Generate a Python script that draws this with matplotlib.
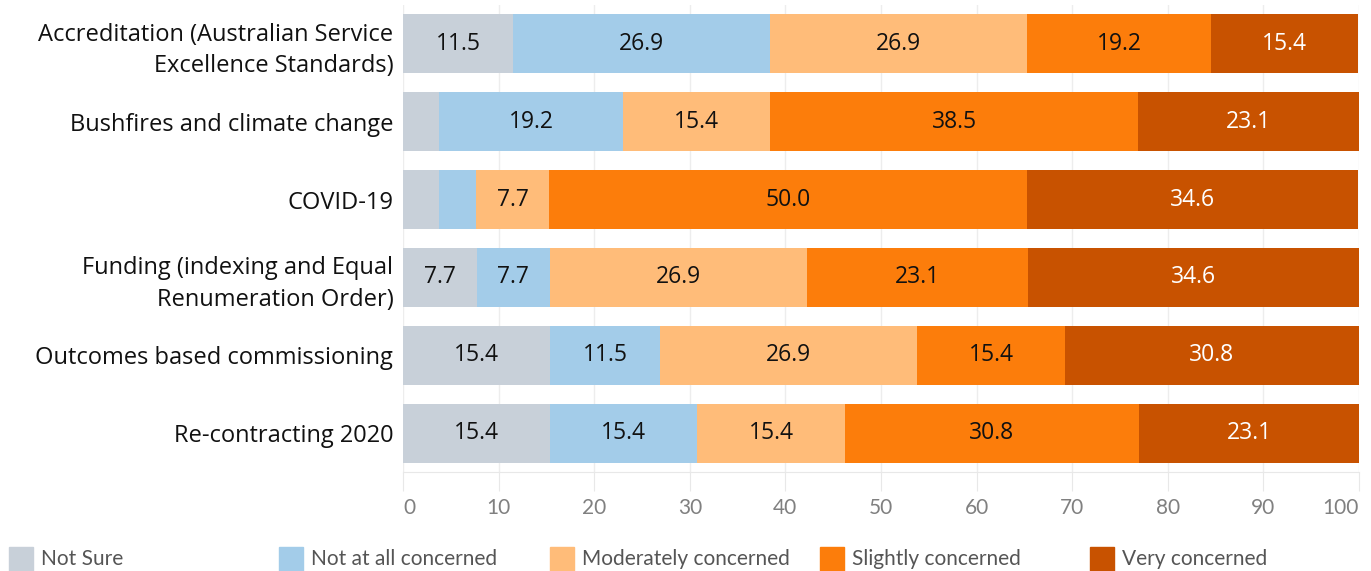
import matplotlib
matplotlib.use("Agg")
import matplotlib.pyplot as plt
from matplotlib import font_manager

categories = [
    "Accreditation (Australian Service\nExcellence Standards)",
    "Bushfires and climate change",
    "COVID-19",
    "Funding (indexing and Equal\nRenumeration Order)",
    "Outcomes based commissioning",
    "Re-contracting 2020",
]
series_names = ["Not Sure", "Not at all concerned", "Moderately concerned",
                "Slightly concerned", "Very concerned"]
not_sure = [11.5, 3.8, 3.8, 7.7, 15.4, 15.4]
not_at_all = [26.9, 19.2, 3.8, 7.7, 11.5, 15.4]
moderately = [26.9, 15.4, 7.7, 26.9, 26.9, 15.4]
slightly = [19.2, 38.5, 50.0, 23.1, 15.4, 30.8]
very = [15.4, 23.1, 34.6, 34.6, 30.8, 23.1]
x_ticks = [0, 10, 20, 30, 40, 50, 60, 70, 80, 90, 100]

colors = ["#c8d0d9", "#a3cce9", "#ffbc79", "#fc7d0b", "#c85200"]
text_colors = ["#111111", "#111111", "#111111", "#111111", "#ffffff"]

installed = {f.name for f in font_manager.fontManager.ttflist}
main_font = "Open Sans" if "Open Sans" in installed else "DejaVu Sans"
tick_font = "Lato" if "Lato" in installed else main_font

W, H = 1371, 571
fig = plt.figure(figsize=(W / 100, H / 100), dpi=100)
ax = fig.add_axes([403 / W, 1 - 472 / H, (1359 - 403) / W, (472 - 5) / H])

series = [not_sure, not_at_all, moderately, slightly, very]
ypos = list(range(len(categories)))
left = [0.0] * len(categories)
for vals, col, tcol in zip(series, colors, text_colors):
    ax.barh(ypos, vals, left=left, height=0.76, color=col, zorder=2)
    for y, l, v in zip(ypos, left, vals):
        if v >= 5:
            ax.text(l + v / 2, y, f"{v:.1f}", ha="center", va="center",
                    color=tcol, fontsize=16.5, family=main_font, zorder=3)
    left = [a + b for a, b in zip(left, vals)]

ax.set_xlim(0, 100)
ax.set_ylim(len(categories) - 0.5, -0.5)
ax.set_yticks(ypos)
ax.set_yticklabels(categories, fontsize=17, family=main_font, color="#111111",
                   linespacing=1.42)
ax.tick_params(axis="y", length=0, pad=7)
ax.set_xticks(x_ticks)
xlabels = ax.set_xticklabels([str(t) for t in x_ticks], fontsize=15,
                             family=tick_font, color="#808080")
xlabels[0].set_ha("left")
xlabels[-1].set_ha("right")
ax.tick_params(axis="x", length=14, color="#e8e8e8", pad=5)
ax.grid(axis="x", color="#ededed", linewidth=1, zorder=0)
for s in ["top", "right", "left"]:
    ax.spines[s].set_visible(False)
ax.spines["bottom"].set_color("#e8e8e8")

# Legend laid out in a single row along the bottom
legend_x = [9, 279, 550, 820, 1090]
for name, col, lx in zip(series_names, colors, legend_x):
    fig.patches.append(plt.Rectangle((lx / W, 0), 24 / W, 24 / H,
                                     color=col, transform=fig.transFigure))
    fig.text((lx + 32) / W, 1 - 559 / H, name, ha="left", va="center",
             fontsize=15, family=tick_font, color="#555555")

fig.savefig("out.png", dpi=100)
